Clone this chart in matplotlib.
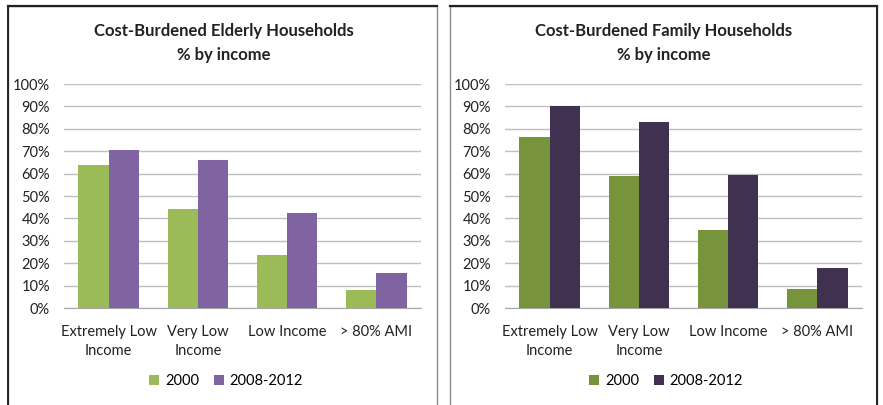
import matplotlib
matplotlib.use("Agg")
import matplotlib.pyplot as plt
import numpy as np
from matplotlib.patches import Rectangle
from matplotlib.ticker import PercentFormatter

categories = ["Extremely Low\nIncome", "Very Low\nIncome", "Low Income", "> 80% AMI"]
series_names = ["2000", "2008-2012"]

elderly_2000 = [64, 44, 23.5, 8]
elderly_2012 = [70.5, 66, 42.5, 15.5]
family_2000 = [76.5, 59, 35, 8.5]
family_2012 = [90, 83, 59.5, 18]

plt.rcParams["font.family"] = ["Lato", "DejaVu Sans"]

fig = plt.figure(figsize=(8.83, 4.05), dpi=100)
W, H = 883, 405


def px_rect(x0, y0, x1, y1):
    return [x0 / W, 1 - y1 / H, (x1 - x0) / W, (y1 - y0) / H]


def fline(x0, y0, x1, y1, color, lw):
    fig.lines.append(plt.Line2D([x0 / W, x1 / W], [1 - y0 / H, 1 - y1 / H],
                                transform=fig.transFigure, color=color, linewidth=lw))


def panel(box, axrect, title, v1, v2, colors, title_x, left_dark):
    # panel border: dark on the top and one side, grey on the rest
    bx0, by0, bx1, by1 = box
    fig.patches.append(Rectangle((bx0 / W, 1 - by1 / H), (bx1 - bx0) / W, (by1 - by0) / H,
                                 transform=fig.transFigure, fill=False,
                                 edgecolor="#8C8C8C", linewidth=1.0))
    fline(bx0, by0, bx1, by0, "#222222", 1.6)
    side = bx0 if left_dark else bx1
    fline(side, by0, side, by1, "#222222", 1.4)

    ax = fig.add_axes(px_rect(*axrect))
    x = np.arange(len(categories))
    w = 0.34
    ax.bar(x - w / 2, v1, w, color=colors[0], label=series_names[0], zorder=3)
    ax.bar(x + w / 2, v2, w, color=colors[1], label=series_names[1], zorder=3)
    ax.set_xlim(-0.5, len(categories) - 0.5)
    ax.set_ylim(0, 100)
    ax.set_yticks(range(0, 101, 10))
    ax.yaxis.set_major_formatter(PercentFormatter(decimals=0))
    ax.set_xticks(x)
    ax.set_xticklabels(categories, fontsize=10.5, color="#222222", linespacing=1.45)
    ax.tick_params(axis="both", length=0, labelsize=10.5, colors="#222222")
    ax.tick_params(axis="x", pad=12)
    ax.tick_params(axis="y", pad=10)
    ax.grid(axis="y", color="#BFBFBF", linewidth=1.0, zorder=0)
    for s in ["top", "right", "left"]:
        ax.spines[s].set_visible(False)
    ax.spines["bottom"].set_color("#A6A6A6")
    fig.text(title_x / W, 1 - 43 / H, title, ha="center", va="center",
             fontsize=12, fontweight="bold", color="#222222", linespacing=1.55)
    handles, labels = ax.get_legend_handles_labels()
    fig.legend(handles, labels, loc="center", bbox_to_anchor=((title_x + 2) / W, 1 - 381 / H),
               ncol=2, frameon=False, fontsize=10.5, handlelength=0.7, handleheight=0.7,
               handletextpad=0.4, columnspacing=1.0)
    return ax


panel((8, 6, 437, 410), (64, 84, 421, 308),
      "Cost-Burdened Elderly Households\n% by income",
      elderly_2000, elderly_2012, ["#9BBB59", "#8064A2"], 224, True)
panel((450, 6, 877, 410), (505, 84, 862, 308),
      "Cost-Burdened Family Households\n% by income",
      family_2000, family_2012, ["#77933C", "#403151"], 664, False)

fig.savefig("out.png", dpi=100)
